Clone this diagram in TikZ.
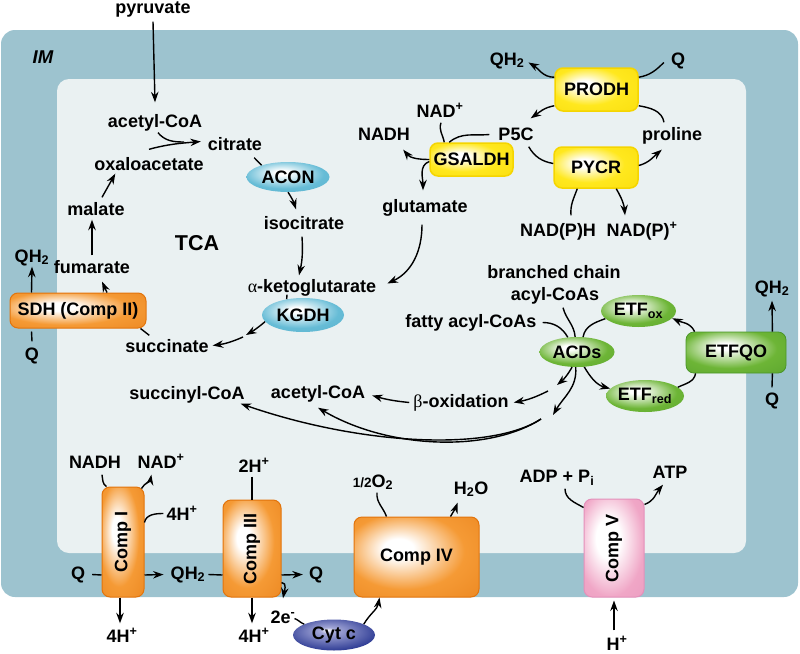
\documentclass[tikz,border=0pt]{standalone}
\usepackage{fontspec}
\setmainfont{Liberation Sans}
\newfontfamily\grk{Liberation Serif}
\usetikzlibrary{arrows.meta,shapes.geometric}
\definecolor{memb}{HTML}{9DC3CF}
\definecolor{mtxcol}{HTML}{EAF1F2}
\definecolor{orgL}{HTML}{F59A35}
\definecolor{orgD}{HTML}{E2740C}
\definecolor{ylwL}{HTML}{FFE81E}
\definecolor{ylwD}{HTML}{F5D500}
\definecolor{bluL}{HTML}{66BCD6}
\definecolor{bluD}{HTML}{4AA6C3}
\definecolor{grnL}{HTML}{6DB536}
\definecolor{grnD}{HTML}{4A9628}
\definecolor{navyD}{HTML}{2A3892}
\definecolor{navyL}{HTML}{A4A8D8}
\definecolor{pinkL}{HTML}{F0A6C6}
\definecolor{pinkD}{HTML}{E490BA}
\pgfdeclareradialshading{oglow}{\pgfpoint{-8bp}{6bp}}{color(0bp)=(white); color(6bp)=(white); color(24bp)=(orgL); color(60bp)=(orgD)}
\pgfdeclareradialshading{yglow}{\pgfpoint{-8bp}{6bp}}{color(0bp)=(white); color(5bp)=(white); color(22bp)=(ylwL); color(60bp)=(ylwD)}
\pgfdeclareradialshading{bglow}{\pgfpoint{-4bp}{8bp}}{color(0bp)=(white); color(4bp)=(white); color(24bp)=(bluL); color(60bp)=(bluD)}
\pgfdeclareradialshading{gglow}{\pgfpoint{-6bp}{8bp}}{color(0bp)=(white); color(4bp)=(white); color(24bp)=(grnL); color(60bp)=(grnD)}
\pgfdeclareradialshading{nglow}{\pgfpoint{-4bp}{8bp}}{color(0bp)=(white); color(5bp)=(navyL); color(30bp)=(navyD); color(60bp)=(navyD)}
\pgfdeclareradialshading{pglow}{\pgfpoint{-6bp}{6bp}}{color(0bp)=(white); color(10bp)=(white); color(28bp)=(pinkL); color(60bp)=(pinkD)}
\newcommand\lblf{\fontsize{18}{20}\selectfont\bfseries}
\begin{document}
\begin{tikzpicture}[x=1pt,y=-1pt,
  lbl/.style={font=\lblf, inner sep=1pt, text height=12.5pt, text depth=3.5pt, anchor=base},
  rtxt/.style={font=\lblf, inner sep=0pt, rotate=90},
  ln/.style={line width=1.4pt},
  arr/.style={line width=1.4pt, -{Stealth[length=10.5pt,width=7.5pt]}},
  obox/.style={draw=orgD, line width=1pt, rounded corners=8pt, shading=oglow, font=\lblf, inner sep=0pt},
  ybox/.style={draw=ylwD, line width=1.5pt, rounded corners=8pt, shading=yglow, font=\lblf, inner sep=0pt},
  gbox/.style={draw=grnD, line width=0.8pt, rounded corners=8pt, shading=gglow, font=\lblf, inner sep=0pt},
  pbox/.style={draw=pinkD, line width=1pt, rounded corners=8pt, shading=pglow, font=\lblf, inner sep=0pt},
  bell/.style={ellipse, shading=bglow, font=\lblf, inner sep=0pt},
  gell/.style={ellipse, shading=gglow, font=\lblf, inner sep=0pt},
  cyt/.style={ellipse, shading=nglow, font=\lblf, inner sep=0pt}]
\useasboundingbox (0,0) rectangle (800,653);
\fill[memb, rounded corners=14pt] (1,30) rectangle (798,597);
\fill[mtxcol, rounded corners=12pt] (57,79) rectangle (746,553);

% ---------- TCA ----------
\node[lbl] (pyr) at (153,13) {pyruvate};
\node[lbl, font=\fontsize{18.5}{20}\selectfont\bfseries\itshape] (im) at (43,63) {IM};
\node[lbl] (acoa) at (155,127) {acetyl-CoA};
\node[lbl] (cit) at (235,150) {citrate};
\node[lbl] (oxa) at (149,170) {oxaloacetate};
\node[lbl] (mal) at (96,215) {malate};
\node[lbl] (fum) at (92,273) {fumarate};
\node[lbl] (qh2l) at (32,262) {QH\textsubscript{2}};
\node[lbl] (ql) at (32,360) {Q};
\node[obox, minimum width=136pt, minimum height=35pt] (sdh) at (78,310.5) {SDH (Comp II)};
\node[lbl] (succ) at (167,352) {succinate};
\node[lbl, font=\fontsize{21.5}{24}\selectfont\bfseries] (tca) at (197,250) {TCA};
\node[lbl] (isoc) at (304,229) {isocitrate};
\node[lbl] (akg) at (312,292) {{\grk\mdseries α}-ketoglutarate};
\node[bell, minimum width=83pt, minimum height=30pt] (acon) at (288,177) {ACON};
\node[bell, minimum width=82pt, minimum height=34pt] (kgdh) at (303,315) {KGDH};

% ---------- proline ----------
\node[lbl] (glu) at (425,212) {glutamate};
\node[lbl] (nadh) at (384,140) {NADH};
\node[lbl] (nadp) at (440,117) {NAD\textsuperscript{+}};
\node[ybox, minimum width=83pt, minimum height=33pt] (gs) at (471.5,159.5) {GSALDH};
\node[lbl] (p5c) at (516,140) {P5C};
\node[ybox, minimum width=83pt, minimum height=43pt] (prodh) at (596.5,89.5) {PRODH};
\node[ybox, minimum width=84pt, minimum height=41pt] (pycr) at (596,167.5) {PYCR};
\node[lbl] (prol) at (672,140) {proline};
\node[lbl] (qh2t) at (507,65) {QH\textsubscript{2}};
\node[lbl] (qt) at (678,65) {Q};
\node[lbl] (nph) at (558,236) {NAD(P)H};
\node[lbl] (npp) at (642,236) {NAD(P)\textsuperscript{+}};

% ---------- fatty acid oxidation ----------
\node[lbl] (brch) at (554,278) {branched chain};
\node[lbl] (acyl) at (555,300) {acyl-CoAs};
\node[lbl] (fatty) at (471,327) {fatty acyl-CoAs};
\node[gell, minimum width=75pt, minimum height=30pt] (acd) at (577,352) {ACDs};
\node[gell, minimum width=75pt, minimum height=32pt] (etfox) at (638.5,311) {ETF\textsubscript{ox}};
\node[gell, minimum width=78pt, minimum height=32pt] (etfred) at (645,396) {ETF\textsubscript{red}};
\node[gbox, minimum width=100pt, minimum height=41pt] (etfqo) at (736,352.5) {ETFQO};
\node[lbl] (qh2r) at (772,293) {QH\textsubscript{2}};
\node[lbl] (qr2) at (772,405) {Q};
\node[lbl] (box) at (461,407) {{\grk\mdseries β}-oxidation};
\node[lbl] (acoa2) at (318,398) {acetyl-CoA};
\node[lbl] (sucoa) at (187,399) {succinyl-CoA};

% ---------- ETC ----------
\node[lbl] (nadhb) at (95,468) {NADH};
\node[lbl] (nadb) at (161,468) {NAD\textsuperscript{+}};
\node[lbl] (h4a) at (182,520) {4H\textsuperscript{+}};
\node[obox, minimum width=42pt, minimum height=110pt] (c1) at (123,542) {};
\node[rtxt] (c1t) at (c1) {Comp I};
\node[lbl] (qb1) at (78,579) {Q};
\node[lbl] (qh2m) at (188,579) {QH\textsubscript{2}};
\node[obox, minimum width=58pt, minimum height=97pt] (c3) at (252,548.5) {};
\node[rtxt] (c3t) at (c3) {Comp III};
\node[lbl] (qb2) at (316,579) {Q};
\node[lbl] (h2) at (254,472) {2H\textsuperscript{+}};
\node[lbl] (h4b) at (122,642) {4H\textsuperscript{+}};
\node[lbl] (h4c) at (254,642) {4H\textsuperscript{+}};
\node[lbl] (e2) at (283,623) {2e\textsuperscript{-}};
\node[cyt, minimum width=82pt, minimum height=31pt] (cytc) at (334,635) {Cyt c};
\node[lbl] (o2) at (373,487) {{\fontsize{13.5}{14}\selectfont 1/2}O\textsubscript{2}};
\node[obox, minimum width=125pt, minimum height=80pt] (c4) at (416.5,557) {Comp IV};
\node[lbl] (h2o) at (471,494) {H\textsubscript{2}O};
\node[lbl] (adp) at (557,482) {ADP + P\textsubscript{i}};
\node[lbl] (atp) at (670,478) {ATP};
\node[pbox, minimum width=60pt, minimum height=98pt] (c5) at (614,548) {};
\node[rtxt] (c5t) at (c5) {Comp V};
\node[lbl] (hpb) at (617,650) {H\textsuperscript{+}};

% ---------- connectors: TCA ----------
\draw[arr] ([yshift=-4pt]pyr.south) -- ([yshift=11pt]acoa.north);
\coordinate (mrg) at (184,142);
\draw[ln] ([xshift=3pt,yshift=-1pt]acoa.south) to[out=-50,in=180] (mrg);
\draw[arr] ([yshift=7pt]oxa.north) to[out=15,in=185] ([xshift=-6pt,yshift=4pt]cit.west);
\draw[ln] ([xshift=-9pt,yshift=-3pt]cit.south east) -- (acon.156);
\draw[arr] (acon.south) to[bend left=8] ([xshift=-8pt,yshift=6pt]isoc.north);
\draw[arr] ([xshift=-2pt,yshift=-3pt]isoc.south) to[bend left=8] ([xshift=-13pt,yshift=3pt]akg.north);
\draw[ln] ([xshift=-25pt,yshift=2pt]akg.south) -- (kgdh.136);
\coordinate (km) at (246,335);
\draw[arr] (kgdh.190) to[bend left=5] (km);
\draw[arr] ([shift={(-3pt,-2pt)}]km) to[bend left=8] ([xshift=3pt,yshift=2pt]succ.east);
\draw[ln] ([xshift=25pt,yshift=3pt]succ.north west) -- ([xshift=-6pt]sdh.south east);
\draw[arr] ([xshift=29pt]sdh.north) -- ([xshift=10pt,yshift=-4pt]fum.south);
\draw[arr] ([yshift=4pt]fum.north) -- ([xshift=-4pt]mal.south);
\draw[arr] ([xshift=6pt,yshift=4pt]mal.north) -- ([xshift=22pt,yshift=1pt]oxa.south west);
\draw[ln] ([yshift=5pt]ql.north) -- ([xshift=22pt,yshift=-3pt]sdh.south west);
\draw[arr] ([xshift=22pt]sdh.north west) -- (qh2l.south);
\draw[arr] ([xshift=-3pt,yshift=-8pt]glu.south) to[out=-90,in=25] ([xshift=10pt,yshift=4pt]akg.east);

% ---------- connectors: proline ----------
\draw[ln] ([xshift=-8pt,yshift=1pt]p5c.west) to[out=185,in=40] ([xshift=20pt]gs.north west);
\draw[ln] ([xshift=1pt,yshift=-1pt]nadp.south) to[out=-110,in=100] ([xshift=15pt]gs.north west);
\draw[arr] (gs.west) to[out=180,in=-50] ([xshift=-8pt,yshift=-5pt]nadh.south east);
\draw[arr] ([yshift=-2pt]gs.west) to[out=200,in=90] ([xshift=-2pt,yshift=8pt]glu.north);
\draw[arr] ([yshift=-10pt]prodh.north west) to[out=180,in=-30] ([xshift=3pt,yshift=-2pt]qh2t.east);
\draw[ln] ([xshift=-6pt,yshift=-2pt]qt.west) to[out=-135,in=10] ([yshift=-10pt]prodh.north east);
\draw[arr] ([yshift=6pt]prodh.south west) to[out=190,in=35] ([xshift=-4pt,yshift=8pt]p5c.north east);
\draw[ln] ([xshift=-8pt,yshift=4pt]prol.north) to[out=100,in=-10] ([yshift=6pt]prodh.south east);
\draw[ln] ([xshift=-6pt,yshift=-2pt]p5c.south east) to[out=-60,in=170] ([yshift=4pt]pycr.west);
\draw[arr] ([yshift=2pt]pycr.east) to[out=15,in=-140] ([xshift=21pt,yshift=-5pt]prol.south west);
\draw[ln] ([xshift=13pt,yshift=7pt]nph.north) to[out=95,in=-110] ([xshift=24pt]pycr.south west);
\draw[arr] ([xshift=63pt]pycr.south west) to[out=-60,in=95] ([xshift=-17pt,yshift=7pt]npp.north);

% ---------- connectors: ACDs ----------
\draw[ln] ([xshift=5pt]fatty.east) to[out=0,in=120] (acd.122);
\draw[ln] ([xshift=8pt,yshift=-3pt]acyl.south) to[out=-75,in=95] (acd.97);
\draw[ln] (acd.68) to[out=80,in=200] (etfox.193);
\draw[arr] ([xshift=9pt]etfqo.north west) to[out=115,in=-25] (etfox.-12);
\draw[ln] (etfred.15) to[out=25,in=-100] ([xshift=10pt]etfqo.south west);
\draw[arr] (acd.-64) to[out=-60,in=165] (etfred.168);
\draw[ln] ([yshift=4pt]qr2.north) -- ([xshift=-14pt]etfqo.south east);
\draw[arr] ([xshift=-14pt]etfqo.north east) -- ([yshift=-3pt]qh2r.south);
\coordinate (b1) at (557,385);
\draw[arr] (acd.-108) to[bend left=10] (b1);
\draw[arr] ([shift={(-9pt,-6pt)}]b1) to[bend left=8] ([xshift=4pt]box.east);
\draw[arr] ([xshift=-3pt]box.west) to[bend left=5] ([xshift=6pt,yshift=-2pt]acoa2.east);
\coordinate (d1) at (553,415);
\draw[arr] (acd.-95) to[out=-85,in=60] (d1);
\coordinate (d2) at (541,419);
\draw[arr] (d2) .. controls (490,452) and (360,445) .. ([xshift=-5pt]sucoa.south east);
\draw[arr] (d2) .. controls (490,452) and (390,450) .. ([yshift=-5pt]acoa2.south);

% ---------- connectors: ETC ----------
\draw[ln] ([xshift=6pt]qb1.east) -- ([yshift=-33pt]c1.west);
\draw[arr] ([yshift=-33pt]c1.east) -- ([xshift=-6pt]qh2m.west);
\draw[ln] ([xshift=2pt]qh2m.east) -- ([yshift=-26.5pt]c3.west);
\draw[arr] ([yshift=-26.5pt]c3.east) -- ([xshift=-5pt]qb2.west);
\draw[ln] ([xshift=7pt,yshift=-2pt]nadhb.south) to[out=-80,in=150] ([xshift=5pt]c1.north west);
\draw[arr] ([xshift=-3pt,yshift=-2pt]c1.north east) to[out=60,in=-100] ([xshift=15pt,yshift=-2pt]nadb.south west);
\draw[ln] ([xshift=-2pt,yshift=2pt]h4a.west) to[out=180,in=80] ([yshift=-36pt]c1.north east);
\draw[arr] ([xshift=-3pt]c1.south) -- ([xshift=-2pt,yshift=5pt]h4b.north);
\draw[ln] ([xshift=-2pt]h2.south) -- (c3.north);
\draw[arr] (c3.south) -- ([xshift=-2pt,yshift=5pt]h4c.north);
\draw[arr] ([yshift=-34pt]c3.east) to[out=0,in=80] ([yshift=11pt]e2.north);
\draw[ln] ([xshift=-2pt]e2.east) to[out=-20,in=160] (cytc.160);
\draw[arr] (cytc.20) to[out=60,in=-100] ([xshift=26pt]c4.south west);
\draw[ln] ([xshift=4pt,yshift=-1pt]o2.south) to[out=-95,in=110] ([xshift=33pt]c4.north west);
\draw[arr] ([xshift=-29pt]c4.north east) to[out=60,in=-110] ([xshift=5pt,yshift=-4pt]h2o.south west);
\draw[ln] ([xshift=8pt,yshift=-2pt]adp.south) to[out=-90,in=150] ([yshift=-9pt]c5.north west);
\draw[arr] ([yshift=-6pt]c5.north east) to[out=20,in=-130] ([xshift=-7pt,yshift=-2pt]atp.south);
\draw[arr] ([xshift=-3pt,yshift=6pt]hpb.north) -- ([yshift=-3pt]c5.south);
\end{tikzpicture}
\end{document}
